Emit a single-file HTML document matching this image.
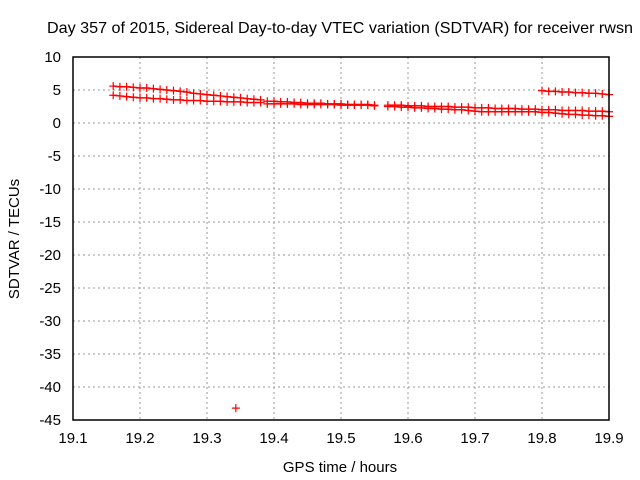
<!DOCTYPE html>
<html><head><meta charset="utf-8"><style>
body{margin:0;background:#fff;}
svg{display:block;font-family:"Liberation Sans",sans-serif;}
</style></head><body>
<svg id="chart" width="640" height="480" viewBox="0 0 640 480">
<text x="340" y="33" text-anchor="middle" font-size="16" textLength="586" lengthAdjust="spacingAndGlyphs">Day 357 of 2015, Sidereal Day-to-day VTEC variation (SDTVAR) for receiver rwsn</text>
<text x="340" y="472" text-anchor="middle" font-size="15">GPS time / hours</text>
<text transform="translate(19,239) rotate(-90)" text-anchor="middle" font-size="15">SDTVAR / TECUs</text>
<g id="grid"></g><g id="series"></g>
<rect x="73" y="57" width="536" height="363" fill="none" stroke="#000" stroke-width="1.5"/>
</svg>
<script>
const xTicks=[19.1,19.2,19.3,19.4,19.5,19.6,19.7,19.8,19.9];
const yTicks=[10,5,0,-5,-10,-15,-20,-25,-30,-35,-40,-45];
const t1x=[19.16,19.17,19.18,19.19,19.20,19.21,19.22,19.23,19.24,19.25,19.26,19.27,19.28,19.29,19.30,19.31,19.32,19.33,19.34,19.35,19.36,19.37,19.38];
const t1y=[5.6,5.5,5.5,5.4,5.3,5.3,5.2,5.1,5.0,4.9,4.8,4.7,4.5,4.4,4.3,4.2,4.1,4.0,3.9,3.8,3.7,3.6,3.5];
const t2y=[4.2,4.1,4.0,3.9,3.8,3.8,3.7,3.7,3.6,3.5,3.5,3.4,3.4,3.4,3.3,3.3,3.3,3.2,3.2,3.2,3.1,3.1,3.1];
const t3x=[19.39,19.40,19.41,19.42,19.43,19.44,19.45,19.46,19.47,19.48,19.49,19.50,19.51,19.52,19.53,19.54,19.55];
const t3y=[3.3,3.3,3.2,3.2,3.1,3.1,3.0,3.0,3.0,2.9,2.9,2.9,2.8,2.8,2.8,2.8,2.7];
const t4y=[2.9,2.9,2.9,2.9,2.9,2.8,2.8,2.8,2.8,2.8,2.8,2.7,2.7,2.7,2.7,2.7,2.6];
const t5x=[19.57,19.58,19.59,19.60,19.61,19.62,19.63,19.64,19.65,19.66,19.67,19.68,19.69,19.70,19.71,19.72,19.73,19.74,19.75,19.76,19.77,19.78,19.79,19.80,19.81,19.82,19.83,19.84,19.85,19.86,19.87,19.88,19.89,19.90];
const t5y=[2.7,2.7,2.7,2.6,2.6,2.6,2.5,2.5,2.5,2.5,2.4,2.4,2.4,2.3,2.3,2.3,2.2,2.2,2.2,2.2,2.1,2.1,2.1,2.0,2.0,2.0,1.9,1.9,1.9,1.9,1.8,1.8,1.8,1.7];
const t6y=[2.5,2.5,2.4,2.4,2.3,2.3,2.2,2.2,2.1,2.1,2.0,2.0,1.9,1.8,1.7,1.7,1.7,1.7,1.7,1.7,1.7,1.7,1.7,1.6,1.6,1.5,1.4,1.3,1.3,1.2,1.2,1.1,1.1,1.0];
const t7x=[19.80,19.81,19.82,19.83,19.84,19.85,19.86,19.87,19.88,19.89,19.90];
const t7y=[4.9,4.8,4.8,4.7,4.7,4.6,4.6,4.5,4.5,4.4,4.3];
const outX=[19.343], outY=[-43.2];
const X=v=>73+(v-19.1)/0.8*536, Y=v=>57+(10-v)/55*363;
const NS="http://www.w3.org/2000/svg";
function mk(tag,attrs,parent){const e=document.createElementNS(NS,tag);for(const k in attrs)e.setAttribute(k,attrs[k]);parent.appendChild(e);return e;}
const grid=document.getElementById('grid'), ser=document.getElementById('series');
xTicks.forEach(t=>{const x=X(t);
 if(t>19.1&&t<19.9){const l=mk('line',{x1:x,x2:x,y1:57,y2:420,stroke:'#999','stroke-dasharray':'2,3'},grid);
 
 }
 const tx=mk('text',{x:x,y:443,'text-anchor':'middle','font-size':15},grid);tx.textContent=t.toFixed(1);
 
 });
yTicks.forEach(t=>{const y=Y(t);
 if(t<10&&t>-45){const l=mk('line',{x1:73,x2:609,y1:y,y2:y,stroke:'#999','stroke-dasharray':'2,3'},grid);
 
 }
 const tx=mk('text',{x:61,y:y+5,'text-anchor':'end','font-size':15},grid);tx.textContent=t;
 
 });
function track(xs,ys,name){const g=mk('g',{},ser);
 
 
 if(xs.length>1){let d='';xs.forEach((x,i)=>{d+=(i?'L':'M')+X(x)+' '+Y(ys[i]);});mk('path',{d:d,fill:'none',stroke:'#f00','stroke-width':1.5},g);}
 xs.forEach((x,i)=>{const px=X(x),py=Y(ys[i]);
  mk('path',{d:`M${px-4} ${py}H${px+4}M${px} ${py-4}V${py+4}`,stroke:'#f00','stroke-width':1.2},g);});}
track(t1x,t1y,'track-1');track(t1x,t2y,'track-2');track(t3x,t3y,'track-3');track(t3x,t4y,'track-4');
track(t5x,t5y,'track-5');track(t5x,t6y,'track-6');track(t7x,t7y,'track-7');track(outX,outY,'outlier-point');
</script>
</body></html>
